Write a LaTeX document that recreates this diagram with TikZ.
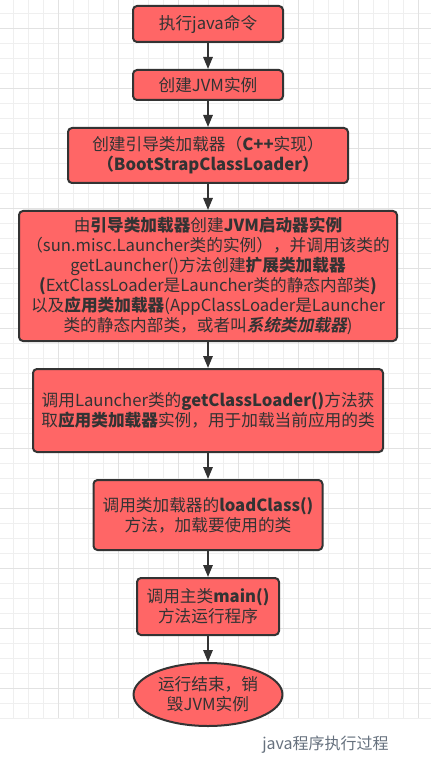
\documentclass[tikz,border=0pt]{standalone}
\usepackage{fontspec}
\setmainfont{Noto Sans CJK SC}[ItalicFont=*, ItalicFeatures={FakeSlant=0.2},
  BoldItalicFont=* Bold, BoldItalicFeatures={FakeSlant=0.2}]
\usepackage{xcolor}
\usepackage{tikz}
\usetikzlibrary{arrows.meta, positioning, shapes.geometric}
\definecolor{flowred}{HTML}{FF6666}
\definecolor{flowdark}{HTML}{333333}
\definecolor{gridminor}{HTML}{EFEFEF}
\definecolor{gridmajor}{HTML}{E2E2E2}
\definecolor{captiongray}{HTML}{66717E}

\tikzset{
  stepbox/.style={draw=flowdark, fill=flowred, line width=1.5pt,
                  rounded corners=3pt, text=flowdark, align=center,
                  inner sep=2pt, font=\fontsize{12.5pt}{15pt}\selectfont},
  endbox/.style={stepbox, ellipse, rounded corners=0pt},
  flowarrow/.style={draw=flowdark, line width=1.5pt,
                    -{Triangle[length=9pt, width=7pt]}}
}

\begin{document}
\begin{tikzpicture}[node distance=19.5pt]
    \useasboundingbox (0,0) rectangle (323.25pt,-574.5pt);
    % background grid
    \foreach \k in {0,...,27}
      \draw[gridminor, line width=0.75pt] (10pt+\k*11.25pt,0) -- (10pt+\k*11.25pt,-538.75pt);
    \foreach \k in {0,...,47}
      \draw[gridminor, line width=0.75pt] (0,-10pt-\k*11.25pt) -- (323.25pt,-10pt-\k*11.25pt);
    \foreach \k in {3,7,...,27}
      \draw[gridmajor, line width=0.75pt] (10pt+\k*11.25pt,0) -- (10pt+\k*11.25pt,-538.75pt);
    \foreach \k in {1,5,...,47}
      \draw[gridmajor, line width=0.75pt] (0,-10pt-\k*11.25pt) -- (323.25pt,-10pt-\k*11.25pt);

    \node[stepbox, minimum width=112.5pt, minimum height=27pt] (javacmd)
      at (156pt,-18pt) {执行java命令};
    \node[stepbox, minimum width=112.5pt, minimum height=22.5pt,
          below=of javacmd] (newjvm) {创建JVM实例};
    \node[stepbox, minimum width=210pt, minimum height=41.25pt,
          below=of newjvm] (bootldr)
      {创建引导类加载器（\textbf{C++}实现）\\ \textbf{（BootStrapClassLoader）}};
    \node[stepbox, minimum width=283.5pt, minimum height=97.5pt,
          below=of bootldr] (launcher)
      {由\textbf{引导类加载器}创建\textbf{JVM启动器实例}\\
       （sun.misc.Launcher类的实例），并调用该类的\\
       getLauncher()方法创建\textbf{扩展类加载器}\\
       \textbf{(}ExtClassLoader是Launcher类的静态内部类\textbf{)}\\
       以及\textbf{应用类加载器}(AppClassLoader是Launcher\\
       类的静态内部类，或者叫\textbf{\itshape 系统类加载器})};
    \node[stepbox, minimum width=262.5pt, minimum height=62.25pt,
          below=of launcher] (appldr)
      {调用Launcher类的\textbf{getClassLoader()}方法获\\
       取\textbf{应用类加载器}实例，用于加载当前应用的类};
    \node[stepbox, minimum width=171.75pt, minimum height=52.5pt,
          below=of appldr] (loadcls)
      {调用类加载器的\textbf{loadClass()}\\ 方法，加载要使用的类};
    \node[stepbox, minimum width=106.5pt, minimum height=42.75pt,
          below=of loadcls] (mainrun)
      {调用主类\textbf{main()}\\ 方法运行程序};
    \node[endbox, minimum width=92.25pt, minimum height=47.25pt,
          below=of mainrun] (jvmend)
      {运行结束，销\\ 毁JVM实例};

    \draw[flowarrow] (javacmd) -- (newjvm);
    \draw[flowarrow] (newjvm) -- (bootldr);
    \draw[flowarrow] (bootldr) -- (launcher);
    \draw[flowarrow] (launcher) -- (appldr);
    \draw[flowarrow] (appldr) -- (loadcls);
    \draw[flowarrow] (loadcls) -- (mainrun);
    \draw[flowarrow] (mainrun) -- (jvmend);

    \node[anchor=west, text=captiongray, inner sep=0pt,
          font=\fontsize{12pt}{14pt}\selectfont] (caption)
      at (196.5pt,-558.75pt) {java程序执行过程};
  \end{tikzpicture}
\end{document}
